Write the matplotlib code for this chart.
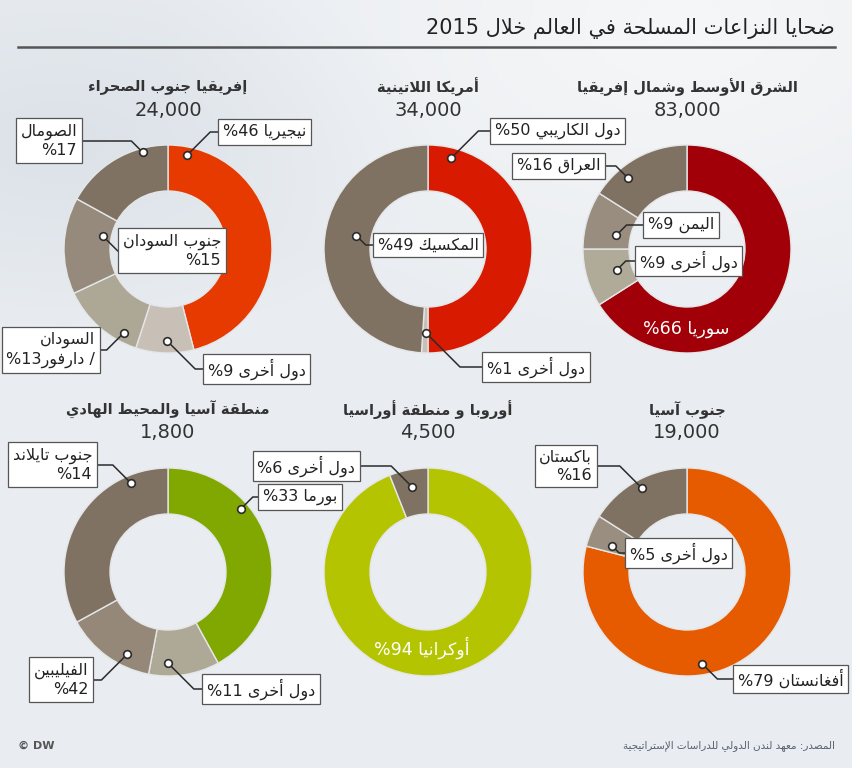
import re
import numpy as np
import matplotlib
matplotlib.use("Agg")
import matplotlib.pyplot as plt

plt.rcParams["font.family"] = ["DejaVu Sans"]

# ---- data ----
title = "ضحايا النزاعات المسلحة في العالم خلال 2015"
source = "المصدر: معهد لندن الدولي للدراسات الإستراتيجية"
regions = ["إفريقيا جنوب الصحراء", "أمريكا اللاتينية", "الشرق الأوسط وشمال إفريقيا",
           "منطقة آسيا والمحيط الهادي", "أوروبا و منطقة أوراسيا", "جنوب آسيا"]
victims = ["24,000", "34,000", "83,000", "1,800", "4,500", "19,000"]

africa_names = ["نيجيريا", "دول أخرى", "السودان\n/ دارفور", "جنوب السودان\n", "الصومال\n"]
africa_pct = [46, 9, 13, 15, 17]
africa_sizes = [46, 9, 13, 15, 17]

latam_names = ["دول الكاريبي", "دول أخرى", "المكسيك"]
latam_pct = [50, 1, 49]
latam_sizes = [50, 1, 49]

mena_names = ["سوريا", "دول أخرى", "اليمن", "العراق"]
mena_pct = [66, 9, 9, 16]
mena_sizes = [66, 9, 9, 16]

# ring segments as drawn (clockwise from top); printed percentages as labelled
ap_names = ["بورما", "دول أخرى", "الفيليبين\n", "جنوب تايلاند\n"]
ap_pct = [33, 11, 42, 14]
ap_sizes = [42, 11, 14, 33]

eu_names = ["أوكرانيا", "دول أخرى"]
eu_pct = [94, 6]
eu_sizes = [94, 6]

sa_names = ["أفغانستان", "دول أخرى", "باكستان\n"]
sa_pct = [79, 5, 16]
sa_sizes = [79, 5, 16]

colors = [
    ["#E63A00", "#C8BFB6", "#ADA795", "#968A7C", "#807262"],
    ["#D81A00", "#C8C0B6", "#807262"],
    ["#A20008", "#B0AA98", "#998D7F", "#807262"],
    ["#80A800", "#AEA896", "#958878", "#807262"],
    ["#B4C400", "#807262"],
    ["#E65A00", "#9A8E80", "#807262"],
]

# ---- simple arabic shaping (presentation forms) + visual order ----
_forms = [("ء", 0xFE80, 1), ("آ", 0xFE81, 2), ("أ", 0xFE83, 2), ("ؤ", 0xFE85, 2),
          ("إ", 0xFE87, 2), ("ئ", 0xFE89, 4), ("ا", 0xFE8D, 2), ("ب", 0xFE8F, 4),
          ("ة", 0xFE93, 2), ("ت", 0xFE95, 4), ("ث", 0xFE99, 4), ("ج", 0xFE9D, 4),
          ("ح", 0xFEA1, 4), ("خ", 0xFEA5, 4), ("د", 0xFEA9, 2), ("ذ", 0xFEAB, 2),
          ("ر", 0xFEAD, 2), ("ز", 0xFEAF, 2), ("س", 0xFEB1, 4), ("ش", 0xFEB5, 4),
          ("ص", 0xFEB9, 4), ("ض", 0xFEBD, 4), ("ط", 0xFEC1, 4), ("ظ", 0xFEC5, 4),
          ("ع", 0xFEC9, 4), ("غ", 0xFECD, 4), ("ف", 0xFED1, 4), ("ق", 0xFED5, 4),
          ("ك", 0xFED9, 4), ("ل", 0xFEDD, 4), ("م", 0xFEE1, 4), ("ن", 0xFEE5, 4),
          ("ه", 0xFEE9, 4), ("و", 0xFEED, 2), ("ى", 0xFEEF, 2), ("ي", 0xFEF1, 4)]
FORMS = {c: (b, n) for c, b, n in _forms}
LAM_ALEF = {"آ": 0xFEF5, "أ": 0xFEF7, "إ": 0xFEF9, "ا": 0xFEFB}


def shape(s):
    items = []
    i = 0
    while i < len(s):
        if s[i] == "ل" and i + 1 < len(s) and s[i + 1] in LAM_ALEF:
            items.append((LAM_ALEF[s[i + 1]], 2))
            i += 2
        else:
            items.append(FORMS.get(s[i], s[i]))
            i += 1
    out = []
    for k, it in enumerate(items):
        if not isinstance(it, tuple):
            out.append(it)
            continue
        base, n = it
        prev = items[k - 1] if k > 0 else None
        nxt = items[k + 1] if k + 1 < len(items) else None
        jp = isinstance(prev, tuple) and prev[1] == 4 and n > 1
        jn = n == 4 and isinstance(nxt, tuple) and nxt[1] > 1
        idx = 3 if (jp and jn) else 1 if jp else 2 if jn else 0
        out.append(chr(base + idx))
    return "".join(out)


def ar(s):
    v = shape(s)[::-1]
    return re.sub(r"[0-9A-Za-z.,]+", lambda m: m.group(0)[::-1], v)


def label_text(name, pct):
    lines = name.split("\n")
    last = lines[-1]
    lines = [ar(l) for l in lines[:-1]]
    sep = "" if "/" in last else " "
    lines.append(f"%{pct}" + (sep + ar(last) if last else ""))
    return "\n".join(lines)


# ---- layout ----
W, H = 853, 768
R_OUT, R_IN = 104, 58
centers = [(168, 249), (428, 249), (687, 249), (168, 572), (428, 572), (687, 572)]
# per label: fraction along wedge, dot radius, box side, box edge x, box mid y
layouts = [
    [(0.07, 96, "l", 218, 132), (0.46, 92, "l", 203, 369), (0.21, 95, "r", 100, 350),
     (0.67, 66, "l", 118, 251), (0.76, 100, "r", 82, 141)],
    [(0.08, 94, "l", 490, 131), (0.38, 84, "l", 482, 367), (0.55, 73, "l", 373, 245)],
    [(0.76, 80, "in", 0, 0), (0.49, 73, "l", 635, 261), (0.34, 72, "l", 643, 225),
     (0.31, 92, "r", 605, 166)],
    [(0.325, 96, "l", 258, 497), (0.73, 91, "l", 202, 689), (0.31, 92, "r", 93, 680),
     (0.81, 96, "r", 97, 465)],
    [(0.546, 76, "in", 0, 0), (0.5, 87, "r", 360, 466)],
    [(0.6, 93, "l", 733, 679), (0.26, 79, "l", 625, 553), (0.51, 95, "r", 597, 466)],
]
donuts = [
    (africa_names, africa_pct, africa_sizes),
    (latam_names, latam_pct, latam_sizes),
    (mena_names, mena_pct, mena_sizes),
    (ap_names, ap_pct, ap_sizes),
    (eu_names, eu_pct, eu_sizes),
    (sa_names, sa_pct, sa_sizes),
]

fig = plt.figure(figsize=(W / 100, H / 100), dpi=100)
ax = fig.add_axes([0, 0, 1, 1])

# background
yy, xx = np.mgrid[0:H:4, 0:W:4]
light = np.clip(1 - np.hypot((xx - 680) / 520, (yy - 20) / 330), 0, 1)
dark = np.clip(1 - np.hypot((xx - 60) / 380, (yy - 140) / 200), 0, 1)
base = np.array([0.914, 0.929, 0.945])
img = base + (np.array([0.965, 0.968, 0.972]) - base) * light[..., None] \
    + (np.array([0.86, 0.885, 0.91]) - base) * dark[..., None]
ax.imshow(np.clip(img, 0, 1), extent=[0, W, H, 0], aspect="auto", zorder=0)

# header
ax.text(835, 28, ar(title), ha="right", va="center", fontsize=15, color="#222")
ax.plot([18, 835], [47, 47], color="#555", lw=1.8)

pad = 0.3
fs = 11.5
pad_px = pad * fs * 100 / 72

for d, ((names, pcts, sizes), (cx, cy), lay, cols) in enumerate(zip(donuts, centers, layouts, colors)):
    ax.pie(sizes, colors=cols, startangle=-90, counterclock=True, radius=R_OUT,
           center=(cx, cy), frame=True,
           wedgeprops=dict(width=R_OUT - R_IN, edgecolor="#E4E6E8", linewidth=1))
    row_top = cy - R_OUT
    ax.text(cx, row_top - 58, ar(regions[d]), ha="center", va="center",
            fontsize=10.5, fontweight="bold", color="#333")
    ax.text(cx, row_top - 35, victims[d], ha="center", va="center",
            fontsize=14, color="#333")
    bounds = np.concatenate([[0], np.cumsum(sizes)]) / sum(sizes) * 360
    for k, (frac, r, side, ex, my) in enumerate(lay):
        th = np.radians(bounds[k] + frac * (bounds[k + 1] - bounds[k]))
        px, py = cx + r * np.sin(th), cy - r * np.cos(th)
        txt = label_text(names[k], pcts[k])
        if side == "in":
            ax.text(px, py, txt, ha="center", va="center", fontsize=12.5, color="white")
            continue
        sgn = 1 if ex > px else -1
        elbow = px + sgn * min(abs(my - py), abs(ex - px))
        ax.plot([ex, elbow, px], [my, my, py], color="#2b2b2b", lw=1.1, zorder=3)
        ax.plot(px, py, "o", ms=5.5, mfc="white", mec="#2b2b2b", mew=1.2, zorder=4)
        tx = ex + pad_px if side == "l" else ex - pad_px
        ax.text(tx, my, txt, ha="left" if side == "l" else "right", va="center",
                multialignment="right", fontsize=fs, color="#222", zorder=5,
                linespacing=1.25,
                bbox=dict(boxstyle=f"square,pad={pad}", fc="white", ec="#555", lw=0.9))

# footer
ax.text(18, 746, "© DW", ha="left", va="center", fontsize=8, fontweight="bold", color="#555")
ax.text(835, 746, ar(source), ha="right", va="center", fontsize=7.5, color="#556070")

ax.set_xlim(0, W)
ax.set_ylim(H, 0)
ax.set_aspect("auto")
ax.axis("off")
fig.savefig("out.png", dpi=100)
